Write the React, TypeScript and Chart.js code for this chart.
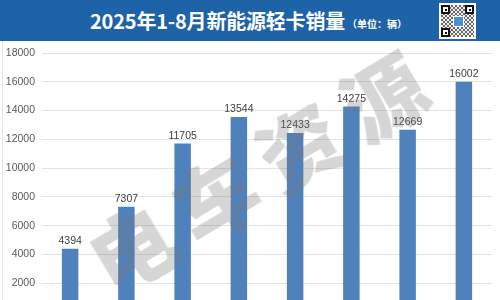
import React, { useEffect, useRef } from "react";
import { Chart, registerables } from "chart.js";

Chart.register(...registerables);

const titleText = "2025年1-8月新能源轻卡销量";
const unitText = "（单位：辆）";
const watermarkText = "电车资源";
const categories = ["1月", "2月", "3月", "4月", "5月", "6月", "7月", "8月"];
const sales = [4394, 7307, 11705, 13544, 12433, 14275, 12669, 16002];
const yMin = 0;
const yMax = 18000;
const yStep = 2000;

const BAR_COLOR = "#4F81BD";
const HEADER_COLOR = "#1E62A8";

const valueLabels = {
  id: "valueLabels",
  afterDatasetsDraw(chart: any) {
    const ctx = chart.ctx;
    const meta = chart.getDatasetMeta(0);
    ctx.save();
    ctx.font = "10.5px 'Liberation Sans', Arial, sans-serif";
    ctx.fillStyle = "#404040";
    ctx.textAlign = "center";
    ctx.textBaseline = "alphabetic";
    meta.data.forEach((bar: any, i: number) => {
      const v = chart.data.datasets[0].data[i];
      ctx.fillText(String(v), bar.x, bar.y - 5);
    });
    ctx.restore();
  },
};

function QRBox() {
  const finder = (style: React.CSSProperties) => (
    <div
      style={{
        position: "absolute",
        width: 9,
        height: 9,
        border: "2px solid #111",
        boxSizing: "border-box",
        background: "#fff",
        ...style,
      }}
    >
      <div style={{ position: "absolute", left: 1.5, top: 1.5, width: 2, height: 2, background: "#111" }} />
    </div>
  );
  return (
    <div
      style={{
        position: "absolute",
        left: 439,
        top: 3,
        width: 37,
        height: 36,
        background: "#fff",
      }}
    >
      <div
        style={{
          position: "absolute",
          left: 2,
          top: 2,
          width: 33,
          height: 32,
          background:
            "repeating-conic-gradient(#333 0 25%, #eee 0 50%) 0 0/4px 4px",
          opacity: 0.75,
        }}
      />
      {finder({ left: 2, top: 2 })}
      {finder({ left: 26, top: 2 })}
      {finder({ left: 2, top: 25 })}
      <div
        style={{
          position: "absolute",
          left: 14,
          top: 13,
          width: 9,
          height: 9,
          background: "#4A8FD0",
          border: "1px solid #fff",
        }}
      />
    </div>
  );
}

export default function App() {
  const canvasRef = useRef<HTMLCanvasElement | null>(null);

  useEffect(() => {
    if (!canvasRef.current) return;
    const chart = new Chart(canvasRef.current, {
      type: "bar",
      data: {
        labels: categories,
        datasets: [
          {
            data: sales,
            backgroundColor: BAR_COLOR,
            borderWidth: 0,
            barPercentage: 0.293,
            categoryPercentage: 1,
          },
        ],
      },
      options: {
        animation: false,
        responsive: false,
        maintainAspectRatio: false,
        layout: { padding: { top: 53, right: 8, bottom: 0, left: 0 } },
        plugins: {
          legend: { display: false },
          tooltip: { enabled: false },
          title: { display: false },
        },
        scales: {
          x: {
            grid: { display: false },
            border: { display: true, color: "#d9d9d9" },
            ticks: {
              color: "#595959",
              font: { size: 11, family: "'Liberation Sans', Arial, sans-serif" },
            },
            afterFit: (scale: any) => {
              scale.height = 28;
            },
          },
          y: {
            min: yMin,
            max: yMax,
            grid: { color: "#e3e3e3", lineWidth: 1, drawTicks: false },
            border: { display: false },
            ticks: {
              stepSize: yStep,
              padding: 7,
              color: "#595959",
              font: { size: 10.5, family: "'Liberation Sans', Arial, sans-serif" },
              callback: (v: any) => String(v),
            },
            afterFit: (scale: any) => {
              scale.width = 42;
            },
          },
        },
      },
      plugins: [valueLabels],
    });
    return () => chart.destroy();
  }, []);

  return (
    <div
      style={{
        position: "fixed",
        left: 0,
        top: 0,
        width: 500,
        height: 300,
        overflow: "hidden",
        background: "#fff",
      }}
    >
      <canvas
        ref={canvasRef}
        width={500}
        height={340}
        style={{ position: "absolute", left: 0, top: 0, width: 500, height: 340 }}
      />
      <div
        style={{
          position: "absolute",
          left: 2,
          top: 41,
          width: 1,
          height: 259,
          background: "#e6e6e6",
        }}
      />
      <div
        style={{
          position: "absolute",
          left: 0,
          top: 0,
          width: 500,
          height: 41,
          background: HEADER_COLOR,
        }}
      >
        <div
          style={{
            position: "absolute",
            left: 90,
            top: 0,
            height: 41,
            display: "flex",
            alignItems: "center",
            whiteSpace: "nowrap",
            color: "#fff",
            fontFamily: "'Noto Sans CJK SC', 'Noto Sans', sans-serif",
          }}
        >
          <span style={{ fontSize: 20, fontWeight: 700, letterSpacing: -0.2 }}>{titleText}</span>
          <span style={{ fontSize: 10, fontWeight: 700, marginTop: 5, marginLeft: 2 }}>{unitText}</span>
        </div>
        <QRBox />
      </div>
      <div
        style={{
          position: "absolute",
          left: 256,
          top: 170,
          transform: "translate(-50%, -50%) rotate(-31deg)",
          fontSize: 82,
          fontWeight: 900,
          letterSpacing: 16,
          paddingLeft: 16,
          lineHeight: 1,
          whiteSpace: "nowrap",
          color: "rgba(120,120,120,0.3)",
          fontFamily: "'Noto Sans CJK SC', sans-serif",
          pointerEvents: "none",
        }}
      >
        {watermarkText}
      </div>
    </div>
  );
}
